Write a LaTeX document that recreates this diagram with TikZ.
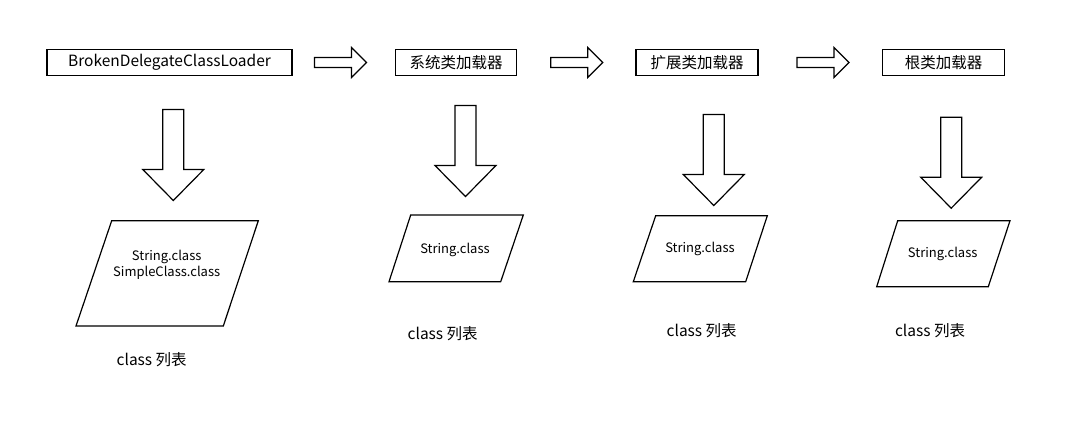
\documentclass[tikz,border=0pt]{standalone}
\usepackage{fontspec}
\setmainfont{Noto Sans CJK SC}
\usepackage{tikz}
\usetikzlibrary{arrows}
\usetikzlibrary{positioning}

\begin{document}
\begin{tikzpicture}[x=1pt, y=-1pt, loader style/.style={draw, rectangle, line width=1.3pt, inner sep=0pt, minimum height=26pt, align=center, font=\fontsize{15.5}{18}\selectfont}, block line/.style={draw, line width=1.2pt, line join=miter}, down block/.pic={\draw[block line] (-10.5,-45.5) -- (10.5,-45.5) -- (10.5,14.5) -- (30.5,14.5) -- (0,45.5) -- (-30.5,14.5) -- (-10.5,14.5) -- cycle;}, right block/.pic={\draw[block line] (-26,-5) -- (11,-5) -- (11,-15) -- (26,0) -- (11,15) -- (11,5) -- (-26,5) -- cycle;}, list shape/.style={draw, line width=1.2pt}, content style/.style={align=center, font=\fontsize{13}{15.4}\selectfont}, caption style/.style={font=\fontsize{15.5}{18}\selectfont}]
	\useasboundingbox (0,0) rectangle (1072,440);
	\node[loader style, minimum width=245pt] (L1) at (169.5,62.3) {BrokenDelegateClassLoader};
	\node[loader style, minimum width=121pt] (L2) at (456,62.5) {系统类加载器};
	\node[loader style, minimum width=122pt] (L3) at (697,62.7) {扩展类加载器};
	\node[loader style, minimum width=122pt] (L4) at (943.5,62.7) {根类加载器};
	\pic (R1) at (340.5,62.5) {right block};
	\pic (R2) at (576.7,62.5) {right block};
	\pic (R3) at (823,62.5) {right block};
	\pic (D1) at (173.3,155) {down block};
	\pic (D2) at (465.5,151) {down block};
	\pic (D3) at (713.8,160) {down block};
	\pic (D4) at (951.2,162.7) {down block};
	\draw[list shape] (111.7,220.7) -- (258.3,220.7) -- (223.3,326) -- (76,326) -- cycle;
	\draw[list shape] (410.7,215) -- (523.3,215) -- (500.7,281.7) -- (389,281.7) -- cycle;
	\draw[list shape] (655.7,215.7) -- (767.3,215.7) -- (745.7,281.7) -- (633.3,281.7) -- cycle;
	\draw[list shape] (897.7,220.7) -- (1010,220.7) -- (988.3,286.7) -- (876.7,286.7) -- cycle;
	\node[content style] (C1) at (166.7,265) {String.class\\SimpleClass.class};
	\node[content style] (C2) at (455,250) {String.class};
	\node[content style] (C3) at (700,249.3) {String.class};
	\node[content style] (C4) at (942.7,254) {String.class};
	\node[caption style] (T1) at (151.7,360) {class 列表};
	\node[caption style] (T2) at (442.7,333.3) {class 列表};
	\node[caption style] (T3) at (701.7,330.7) {class 列表};
	\node[caption style] (T4) at (930,330.7) {class 列表};
\end{tikzpicture}
\end{document}
